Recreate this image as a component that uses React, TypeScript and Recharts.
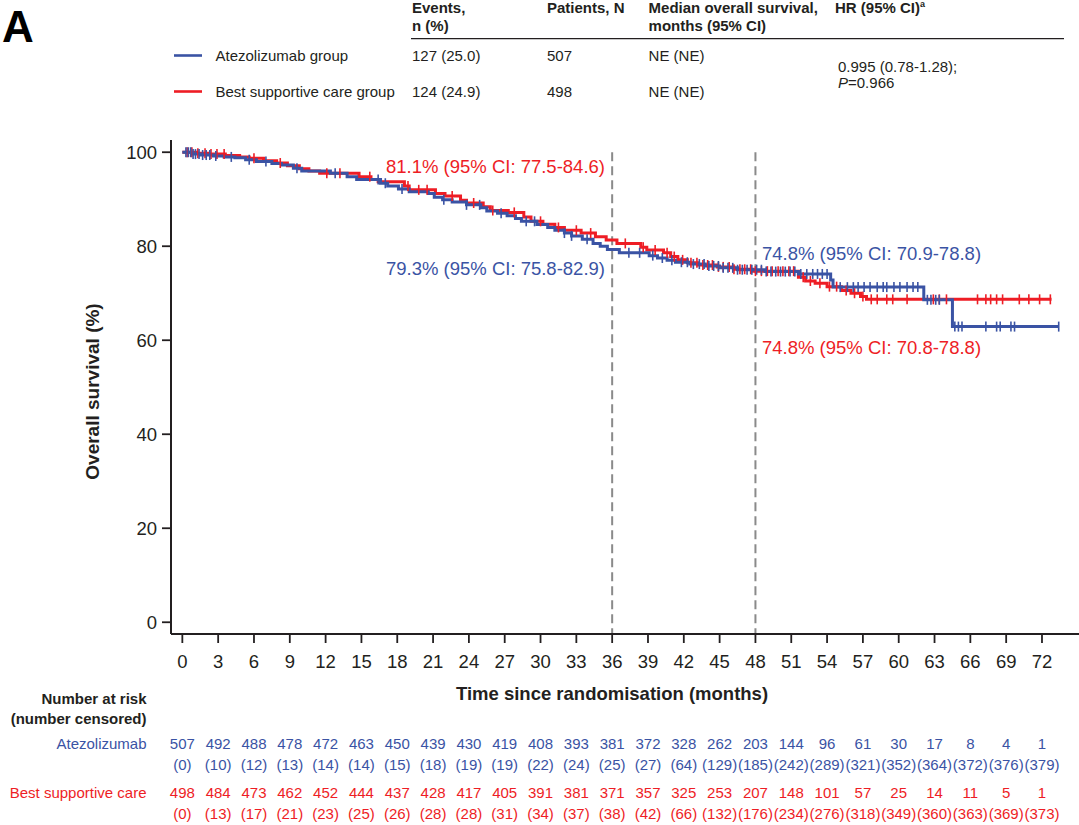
import React from 'react'
import { ComposedChart, Line, XAxis, YAxis, ReferenceLine } from 'recharts'

const FONT = '"Liberation Sans", Arial, Helvetica, sans-serif'
const INK = '#231f20'
const BLUE = '#3a53a4'
const RED = '#ee1d25'
const GREY = '#8a8a8a'

// Kaplan-Meier steps (months / % alive)
const atezoTime = [0, 0.8, 1.5, 2.6, 3.5, 4.4, 5.3, 6.2, 7.5, 8.3, 9.3, 10, 12.4, 13.8, 14.6, 16.6, 17.2, 18.1, 19, 20.6, 21.1, 21.8, 22.6, 23.8, 25, 25.5, 26.4, 27.2, 27.9, 28.4, 29.7, 30.6, 31.2, 32, 32.6, 33.5, 34.4, 35, 35.6, 36.6, 39.1, 39.8, 40.6, 41.3, 42.5, 43.8, 45, 46.5, 48.8, 51.6, 54.3, 54.5, 62.1, 64.5, 73.4]
const atezoSurv = [100, 99.6, 99.4, 99.2, 99, 98.8, 98.4, 98, 97.6, 97.3, 96.6, 96, 95.5, 94.8, 94.2, 93.4, 92.8, 92.2, 91.6, 91.2, 90.4, 89.9, 89.4, 88.8, 88.2, 87.5, 87, 86.5, 85.9, 85.3, 84.6, 84, 83.4, 82.8, 82.2, 81.5, 80.6, 80, 79.3, 78.6, 78, 77.5, 77, 76.6, 76.2, 75.8, 75.4, 75, 74.6, 74.1, 72.8, 71.3, 68.6, 62.9, 62.9]

const bscTime = [0, 1.2, 2.2, 3.6, 4.8, 5.6, 6.8, 7.9, 8.8, 9.8, 10.6, 11.5, 14.8, 15.8, 16.4, 18.6, 19, 21.2, 22, 23.3, 23.8, 25.2, 25.8, 27.3, 28.6, 29.2, 30.2, 31.2, 32, 33.4, 34.6, 35.5, 36.4, 38.4, 38.9, 40.3, 40.9, 41.5, 42.3, 43.2, 44.8, 46.2, 47.8, 51.6, 52.2, 53, 54, 55.2, 56, 56.8, 57.3, 72.8]
const bscSurv = [100, 99.8, 99.6, 99.3, 99, 98.7, 98.2, 97.7, 97.1, 96.5, 96, 95.5, 94.8, 94.2, 93.7, 92.8, 92, 91.2, 90.7, 89.8, 89.2, 88.4, 87.6, 87.2, 86.2, 85.3, 84.7, 84, 83.4, 82.8, 82, 81.3, 80.6, 79.8, 79.2, 78.6, 77.8, 77.1, 76.5, 76, 75.6, 75.1, 74.7, 73.4, 72.6, 72.1, 71.4, 70.6, 70, 69.3, 68.7, 68.7]

// censoring times (months)
const atezoCensored = [0.3, 0.5, 0.7, 0.9, 1.1, 1.4, 1.7, 2, 2.3, 2.8, 4.1, 5.6, 7, 9.6, 12.8, 16.4, 17, 18.4, 21.9, 23.8, 24.9, 26.7, 28.8, 29.5, 32, 32.6, 33.9, 37.4, 38.3, 39.4, 40.2, 41, 41.8, 42.3, 42.8, 43.3, 43.7, 44.1, 44.5, 44.9, 45.3, 45.7, 46.1, 46.5, 46.9, 47.3, 47.7, 48.1, 48.5, 48.9, 49.3, 49.7, 50.1, 50.5, 50.9, 51.3, 51.8, 52.3, 52.8, 53.2, 53.6, 54, 55.1, 55.7, 56.2, 56.6, 57.1, 57.6, 58.2, 58.7, 59, 59.6, 60.1, 60.7, 61.2, 61.6, 62.4, 62.7, 63.1, 63.4, 64.7, 65, 65.3, 67.3, 68.2, 68.5, 69.4, 69.7, 73.4]
const bscCensored = [0.4, 0.8, 1.3, 1.9, 2.4, 2.9, 3.5, 6, 8.2, 12.1, 13.2, 15.7, 18.9, 19.8, 20.5, 22.6, 24.4, 26, 27.8, 30, 31.5, 33, 34.2, 37.1, 38.6, 39.6, 40.6, 41.2, 41.9, 42.6, 43.1, 43.6, 44, 44.4, 44.9, 45.3, 45.8, 46.2, 46.7, 47.1, 47.6, 48, 48.5, 49, 49.4, 49.9, 50.3, 50.8, 51.2, 52, 52.6, 53.4, 54.2, 54.8, 55.6, 56.3, 57, 57.7, 58.2, 59, 59.5, 60.7, 62.9, 63.4, 64, 66.6, 67.3, 67.7, 68.2, 68.7, 70.1, 70.9, 71.8, 72.7]

const monthTicks = [0, 3, 6, 9, 12, 15, 18, 21, 24, 27, 30, 33, 36, 39, 42, 45, 48, 51, 54, 57, 60, 63, 66, 69, 72]
const survTicks = [0, 20, 40, 60, 80, 100]

// number at risk table
const atezoAtRisk = [507, 492, 488, 478, 472, 463, 450, 439, 430, 419, 408, 393, 381, 372, 328, 262, 203, 144, 96, 61, 30, 17, 8, 4, 1]
const atezoCensCount = [0, 10, 12, 13, 14, 14, 15, 18, 19, 19, 22, 24, 25, 27, 64, 129, 185, 242, 289, 321, 352, 364, 372, 376, 379]
const bscAtRisk = [498, 484, 473, 462, 452, 444, 437, 428, 417, 405, 391, 381, 371, 357, 325, 253, 207, 148, 101, 57, 25, 14, 11, 5, 1]
const bscCensCount = [0, 13, 17, 21, 23, 25, 26, 28, 28, 31, 34, 37, 38, 42, 66, 132, 176, 234, 276, 318, 349, 360, 363, 369, 373]

const toRows = (ts: number[], ss: number[]) => ts.map((t, i) => ({ t, s: ss[i] }))

// level of the step curve at time t
const levelAt = (ts: number[], ss: number[], t: number) => {
  let v = ss[0]
  for (let i = 0; i < ts.length; i++) if (ts[i] <= t) v = ss[i]
  return v
}

const atezoRows = toRows(atezoTime, atezoSurv)
const bscRows = toRows(bscTime, bscSurv)
const atezoMarks = atezoCensored.map(t => ({ t, s: levelAt(atezoTime, atezoSurv, t) }))
const bscMarks = bscCensored.map(t => ({ t, s: levelAt(bscTime, bscSurv, t) }))

const censorMark = (color: string) => (props: any) => {
  const { cx, cy, index } = props
  if (cx == null || cy == null) return <g key={index} />
  return <line key={index} x1={cx} x2={cx} y1={cy - 5} y2={cy + 5} stroke={color} strokeWidth={1.6} />
}

function TimeTick({ x, y, payload }: any) {
  const i = monthTicks.indexOf(payload.value)
  return (
    <g fontFamily={FONT} textAnchor="middle">
      <text x={x} y={y + 25} fontSize={18.5} fill={INK}>{payload.value}</text>
      <text x={x} y={y + 106} fontSize={15} fill={BLUE}>{atezoAtRisk[i]}</text>
      <text x={x} y={y + 127} fontSize={15} fill={BLUE}>({atezoCensCount[i]})</text>
      <text x={x} y={y + 155} fontSize={15} fill={RED}>{bscAtRisk[i]}</text>
      <text x={x} y={y + 176} fontSize={15} fill={RED}>({bscCensCount[i]})</text>
    </g>
  )
}

function SurvTick({ x, y, payload }: any) {
  return (
    <text x={x} y={y} dy="0.36em" textAnchor="end" fontFamily={FONT} fontSize={18.5} fill={INK}>
      {payload.value}
    </text>
  )
}

export default function App() {
  return (
    <div style={{ position: 'absolute', left: 0, top: 0, width: 1079, height: 825, background: '#fff' }}>
      <ComposedChart width={1079} height={825} margin={{ top: 140, right: 0, bottom: 151, left: 111 }}>
        <XAxis
          type="number"
          dataKey="t"
          domain={[-0.95, 75.1]}
          allowDataOverflow
          ticks={monthTicks}
          interval={0}
          height={40}
          tickSize={9}
          tickMargin={0}
          axisLine={{ stroke: INK, strokeWidth: 2 }}
          tickLine={{ stroke: INK, strokeWidth: 1.8 }}
          tick={<TimeTick />}
        />
        <YAxis
          type="number"
          dataKey="s"
          domain={[-2.5, 102.6]}
          allowDataOverflow
          ticks={survTicks}
          width={60}
          tickSize={9}
          tickMargin={5}
          axisLine={{ stroke: INK, strokeWidth: 2 }}
          tickLine={{ stroke: INK, strokeWidth: 1.8 }}
          tick={<SurvTick />}
        />
        <ReferenceLine segment={[{ x: 36, y: 100 }, { x: 36, y: -2.5 }]} stroke={GREY} strokeWidth={2} strokeDasharray="9 5" />
        <ReferenceLine segment={[{ x: 48, y: 100 }, { x: 48, y: -2.5 }]} stroke={GREY} strokeWidth={2} strokeDasharray="9 5" />
        <Line data={bscRows} dataKey="s" type="stepAfter" stroke={RED} strokeWidth={3} dot={false} activeDot={false} isAnimationActive={false} />
        <Line data={bscMarks} dataKey="s" stroke="none" dot={censorMark(RED)} activeDot={false} isAnimationActive={false} />
        <Line data={atezoRows} dataKey="s" type="stepAfter" stroke={BLUE} strokeWidth={3} dot={false} activeDot={false} isAnimationActive={false} />
        <Line data={atezoMarks} dataKey="s" stroke="none" dot={censorMark(BLUE)} activeDot={false} isAnimationActive={false} />
      </ComposedChart>

      <svg width={1079} height={825} style={{ position: 'absolute', left: 0, top: 0, pointerEvents: 'none' }} fontFamily={FONT}>
        {/* panel letter + summary table */}
        <text x={2} y={42} fontSize={44} fontWeight="bold" fill="#000">A</text>
        <g fontSize={15} fontWeight="bold" fill={INK}>
          <text x={412} y={13}>Events,</text>
          <text x={412} y={31}>n (%)</text>
          <text x={547} y={13}>Patients, N</text>
          <text x={648.6} y={13}>Median overall survival,</text>
          <text x={648.6} y={31}>months (95% CI)</text>
          <text x={835} y={13}>
            HR (95% CI)<tspan fontSize={9} dy={-6}>a</tspan>
          </text>
        </g>
        <line x1={411} x2={1064} y1={38.6} y2={38.6} stroke={INK} strokeWidth={1.4} />
        <line x1={174} x2={202} y1={55.5} y2={55.5} stroke={BLUE} strokeWidth={2.6} />
        <line x1={174} x2={202} y1={91.5} y2={91.5} stroke={RED} strokeWidth={2.6} />
        <g fontSize={15} fill={INK}>
          <text x={215.5} y={60.5}>Atezolizumab group</text>
          <text x={215.5} y={96.5}>Best supportive care group</text>
          <text x={412} y={60.5}>127 (25.0)</text>
          <text x={412} y={96.5}>124 (24.9)</text>
          <text x={547} y={60.5}>507</text>
          <text x={547} y={96.5}>498</text>
          <text x={648.6} y={60.5}>NE (NE)</text>
          <text x={648.6} y={96.5}>NE (NE)</text>
          <text x={838} y={71.5}>0.995 (0.78-1.28);</text>
          <text x={838} y={88}>
            <tspan fontStyle="italic">P</tspan>=0.966
          </text>
        </g>

        {/* landmark annotations */}
        <g fontSize={18.5}>
          <text x={605} y={173} textAnchor="end" fill={RED}>81.1% (95% CI: 77.5-84.6)</text>
          <text x={605} y={275} textAnchor="end" fill={BLUE}>79.3% (95% CI: 75.8-82.9)</text>
          <text x={762} y={259.5} fill={BLUE}>74.8% (95% CI: 70.9-78.8)</text>
          <text x={762} y={354} fill={RED}>74.8% (95% CI: 70.8-78.8)</text>
        </g>

        {/* axis titles */}
        <text x={612} y={700} textAnchor="middle" fontSize={18.5} fontWeight="bold" fill={INK}>
          Time since randomisation (months)
        </text>
        <text transform="translate(99 391.5) rotate(-90)" textAnchor="middle" fontSize={19} fontWeight="bold" fill={INK}>
          Overall survival (%)
        </text>

        {/* number at risk labels */}
        <g fontSize={15} textAnchor="end">
          <text x={146.5} y={704} fontWeight="bold" fill={INK}>Number at risk</text>
          <text x={146.5} y={724} fontWeight="bold" fill={INK}>(number censored)</text>
          <text x={146.5} y={749} fill={BLUE}>Atezolizumab</text>
          <text x={146.5} y={798} fill={RED}>Best supportive care</text>
        </g>
      </svg>
    </div>
  )
}
